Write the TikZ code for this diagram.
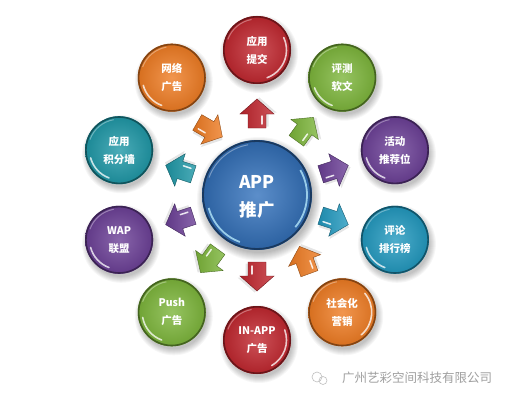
\documentclass[tikz,border=0pt]{standalone}
\usepackage{fontspec}
\setmainfont{Noto Sans CJK SC}
\definecolor{redc}{HTML}{C0262E}
\definecolor{greenc}{HTML}{7CB53A}
\definecolor{purplec}{HTML}{6B3F96}
\definecolor{cyanc}{HTML}{2198BE}
\definecolor{tealc}{HTML}{1E97A6}
\definecolor{orangec}{HTML}{EE7B22}
\definecolor{bluec}{HTML}{3372BD}
\tikzset{
  balltext/.style={text=white, align=center, inner sep=0pt,
    font=\bfseries\fontsize{10.5}{18}\selectfont},
  centertext/.style={text=white, align=center, inner sep=0pt,
    font=\bfseries\fontsize{17.5}{28}\selectfont},
  marktext/.style={text=gray!75, inner sep=0pt, font=\fontsize{12.5}{14}\selectfont}
}
% ball: name, position angle, colour, text, highlight start, highlight end
\newcommand{\mkball}[6]{%
 \begin{scope}[shift={(257,205)}, shift={(#2:145)}]
  \foreach \k in {0,...,6}{\fill[black,opacity=0.035] (2,-4) circle ({33+\k});}
  \shade[inner color=#3!80!white, outer color=#3!90!black] (0,0) circle (34);
  \draw[#3!55!black, line width=1.6] (0,0) circle (33.2);
  \draw[white, opacity=0.35, line width=1] (100:31) arc[start angle=100, end angle=160, radius=31];
  \draw[white, opacity=0.75, line width=1.6, line cap=round] (#5:29.5) arc[start angle=#5, end angle=#6, radius=29.5];
  \node[balltext] (#1) at (0,0) {#4};
 \end{scope}}
% arrow: position angle, direction, colour
\newcommand{\mkarrow}[3]{%
 \begin{scope}[shift={(257,205)}, shift={(#1:81)}, rotate=#2]
  \fill[black, opacity=0.10, shift={(1.5,-2.5)}] (-14,-9)--(0,-9)--(0,-17)--(15,0)--(0,17)--(0,9)--(-14,9)--cycle;
  \shade[left color=#3!90!black, right color=#3!80!white, draw=#3!60!black, line width=0.4]
    (-14,-9)--(0,-9)--(0,-17)--(15,0)--(0,17)--(0,9)--(-14,9)--cycle;
  \draw[white, line width=1.5, line cap=round, opacity=0.85] (-10,-5)--(-2,-5);
 \end{scope}}
\begin{document}
\begin{tikzpicture}[x=1pt,y=1pt]
\useasboundingbox (0,0) rectangle (512,400);
\fill[white] (0,0) rectangle (512,400);
% centre ball
\foreach \k in {0,...,8}{\fill[black,opacity=0.03] (259,201) circle ({54+\k});}
\shade[inner color=bluec!80!white, outer color=bluec!85!black] (257,205) circle (55);
\draw[bluec!50!black, line width=1.8] (257,205) circle (54);
\draw[cyan!30!white, opacity=0.8, line width=1.8] (257,205) ++(195:50) arc[start angle=195, end angle=250, radius=50];
\draw[cyan!30!white, opacity=0.8, line width=1.8] (257,205) ++(-40:50) arc[start angle=-40, end angle=30, radius=50];
\draw[white, opacity=0.35, line width=1] (257,205) ++(100:51) arc[start angle=100, end angle=160, radius=51];
\node[centertext] (app) at (257,203) {APP\\推广};
% outer balls
\mkball{b1}{90}{redc}{应用\\提交}{-70}{25}
\mkball{b2}{54}{greenc}{评测\\软文}{200}{250}
\mkball{b3}{18}{purplec}{活动\\推荐位}{195}{250}
\mkball{b4}{-18}{cyanc}{评论\\排行榜}{195}{250}
\mkball{b5}{-54}{orangec}{社会化\\营销}{-50}{40}
\mkball{b6}{-90}{redc}{IN-APP\\广告}{-60}{20}
\mkball{b7}{-126}{greenc}{Push\\广告}{190}{250}
\mkball{b8}{-162}{purplec}{WAP\\联盟}{195}{250}
\mkball{b9}{162}{tealc}{应用\\积分墙}{195}{250}
\mkball{b10}{126}{orangec}{网络\\广告}{195}{250}
% arrows
\mkarrow{90}{90}{redc}
\mkarrow{54}{54}{greenc}
\mkarrow{18}{18}{purplec}
\mkarrow{-18}{-18}{cyanc}
\mkarrow{-54}{110}{orangec}
\mkarrow{-90}{-90}{redc}
\mkarrow{-126}{-126}{greenc}
\mkarrow{-162}{-162}{purplec}
\mkarrow{162}{162}{tealc}
\mkarrow{126}{-30}{orangec}
% watermark
\draw[gray!50, line width=0.6] (317,23) circle (5);
\draw[gray!50, line width=0.6] (323,19.5) circle (4);
\node[marktext] (wm) at (417,22) {广州艺彩空间科技有限公司};
\end{tikzpicture}
\end{document}
